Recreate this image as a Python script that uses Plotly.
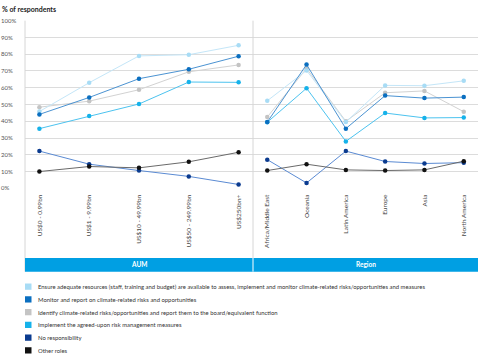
import plotly.graph_objects as go

W, H = 480, 357

aum_labels = ["US$0 - 0.99bn", "US$1 - 9.99bn", "US$10 - 49.99bn", "US$50 - 249.99bn", "US$250bn+"]
region_labels = ["Africa/Middle East", "Oceania", "Latin America", "Europe", "Asia", "North America"]

series_names = [
    "Ensure adequate resources (staff, training and budget) are available to assess, implement and monitor climate-related risks/opportunities and measures",
    "Monitor and report on climate-related risks and opportunities",
    "Identify climate-related risks/opportunities and report them to the board/equivalent function",
    "Implement the agreed-upon risk management measures",
    "No responsibility",
    "Other roles",
]

aum_ensure = [45.8, 63.0, 79.0, 79.7, 85.3]
aum_monitor = [44.1, 54.2, 65.4, 71.0, 78.8]
aum_identify = [48.4, 52.0, 58.8, 69.5, 73.6]
aum_implement = [35.6, 43.1, 50.3, 63.4, 63.2]
aum_none = [22.2, 14.4, 10.6, 7.1, 2.3]
aum_other = [10.0, 13.0, 12.2, 15.8, 21.5]

region_ensure = [52.2, 70.3, 39.5, 61.4, 61.2, 64.1]
region_monitor = [39.5, 73.8, 35.6, 55.3, 53.8, 54.4]
region_identify = [42.5, 71.5, 40.0, 57.0, 58.1, 45.7]
region_implement = [39.4, 59.7, 28.0, 44.9, 42.0, 42.2]
region_none = [17.1, 3.2, 22.2, 16.0, 14.8, 15.3]
region_other = [10.6, 14.4, 11.0, 10.6, 11.0, 16.2]

y_ticks = [0, 10, 20, 30, 40, 50, 60, 70, 80, 90, 100]
y_tick_text = [f"{v}%" for v in y_ticks]

marker_colors = ["#a8dcf5", "#0b6fc0", "#c4c4c4", "#16b2ea", "#0b3b8f", "#111111"]
line_colors = ["#c4e6f8", "#4b93d2", "#d2d2d2", "#4cc3ef", "#5b8bd3", "#6a6a6a"]

aum_series = [aum_ensure, aum_monitor, aum_identify, aum_implement, aum_none, aum_other]
region_series = [region_ensure, region_monitor, region_identify, region_implement, region_none, region_other]

def px_x(p):
    return p / W

def px_y(p):
    return 1 - p / H

FONT = "Lato"

fig = go.Figure()
draw_order = [2, 0, 3, 1, 4, 5]
for i in draw_order:
    fig.add_trace(go.Scatter(
        x=aum_labels, y=aum_series[i], mode="lines+markers", name=series_names[i],
        line=dict(color=line_colors[i], width=1),
        marker=dict(color=marker_colors[i], size=4.5),
        xaxis="x", yaxis="y", showlegend=False, hoverinfo="skip"))
    fig.add_trace(go.Scatter(
        x=region_labels, y=region_series[i], mode="lines+markers", name=series_names[i],
        line=dict(color=line_colors[i], width=1),
        marker=dict(color=marker_colors[i], size=4.5),
        xaxis="x2", yaxis="y", showlegend=False, hoverinfo="skip"))

left, mid, right = 25, 253, 478
top, bottom = 17, 188
ydom = [px_y(bottom), px_y(top)]

tickfont = dict(family=FONT, size=6.5, color="#444444")
fig.update_layout(
    width=W, height=H,
    margin=dict(l=0, r=0, t=0, b=0),
    paper_bgcolor="white", plot_bgcolor="white",
    showlegend=False,
    xaxis=dict(domain=[px_x(left), px_x(mid)], type="category", tickangle=-90,
               tickfont=tickfont, showgrid=False, zeroline=False, showline=False,
               ticks="", ticklabelstandoff=4, fixedrange=True),
    xaxis2=dict(domain=[px_x(mid), px_x(right)], type="category", tickangle=-90,
                tickfont=tickfont, showgrid=False, zeroline=False, showline=False,
                ticks="", ticklabelstandoff=4, anchor="y", fixedrange=True),
    yaxis=dict(domain=ydom, range=[0, 100], tickvals=y_ticks, showticklabels=False,
               showgrid=True, gridcolor="#dcdcdc", gridwidth=1.2, zeroline=False,
               showline=False, ticks="", fixedrange=True),
    yaxis3=dict(domain=ydom, range=[0, 100], tickvals=y_ticks, ticktext=y_tick_text,
                anchor="free", position=0, side="right", overlaying="y",
                showgrid=False, zeroline=False, showline=False, ticks="",
                tickfont=dict(family=FONT, size=6, color="#555555"), fixedrange=True),
)
fig.add_trace(go.Scatter(x=[None], y=[None], xaxis="x", yaxis="y3", showlegend=False, hoverinfo="skip"))

shapes = []
shapes.append(dict(type="line", xref="paper", yref="paper", x0=px_x(left), x1=px_x(left),
                   y0=px_y(273), y1=px_y(top), line=dict(color="#d6d6d6", width=1)))
shapes.append(dict(type="line", xref="paper", yref="paper", x0=px_x(mid), x1=px_x(mid),
                   y0=px_y(259), y1=px_y(top), line=dict(color="#d6d6d6", width=1)))
shapes.append(dict(type="rect", xref="paper", yref="paper", x0=px_x(left), x1=px_x(right),
                   y0=px_y(273), y1=px_y(259), fillcolor="#009fe3", line=dict(width=0)))
shapes.append(dict(type="line", xref="paper", yref="paper", x0=px_x(mid), x1=px_x(mid),
                   y0=px_y(273), y1=px_y(259), line=dict(color="white", width=1)))

annotations = []
annotations.append(dict(text="<b>% of respondents</b>", xref="paper", yref="paper",
                        x=0, y=px_y(5), xanchor="left", yanchor="middle", showarrow=False,
                        font=dict(family=FONT, size=7, color="#222222")))
annotations.append(dict(text="<b>AUM</b>", xref="paper", yref="paper",
                        x=px_x((left + mid) / 2), y=px_y(266), xanchor="center", yanchor="middle",
                        showarrow=False, font=dict(family=FONT, size=6.5, color="white")))
annotations.append(dict(text="<b>Region</b>", xref="paper", yref="paper",
                        x=px_x((mid + right) / 2), y=px_y(266), xanchor="center", yanchor="middle",
                        showarrow=False, font=dict(family=FONT, size=6.5, color="white")))

leg_y0, leg_dy = 288.3, 13.0
for k, name in enumerate(series_names):
    cy = leg_y0 + k * leg_dy
    shapes.append(dict(type="rect", xref="paper", yref="paper", x0=px_x(25), x1=px_x(31.5),
                       y0=px_y(cy + 3.2), y1=px_y(cy - 3.2), fillcolor=marker_colors[k],
                       line=dict(width=0)))
    annotations.append(dict(text=name, xref="paper", yref="paper", x=px_x(35.5), y=px_y(cy),
                            xanchor="left", yanchor="middle", showarrow=False,
                            font=dict(family=FONT, size=5.9, color="#333333")))

fig.update_layout(shapes=shapes, annotations=annotations)
fig.write_html("out.html", config={"displayModeBar": False},
               post_script="document.body.style.margin='0';document.body.style.overflow='hidden';")
